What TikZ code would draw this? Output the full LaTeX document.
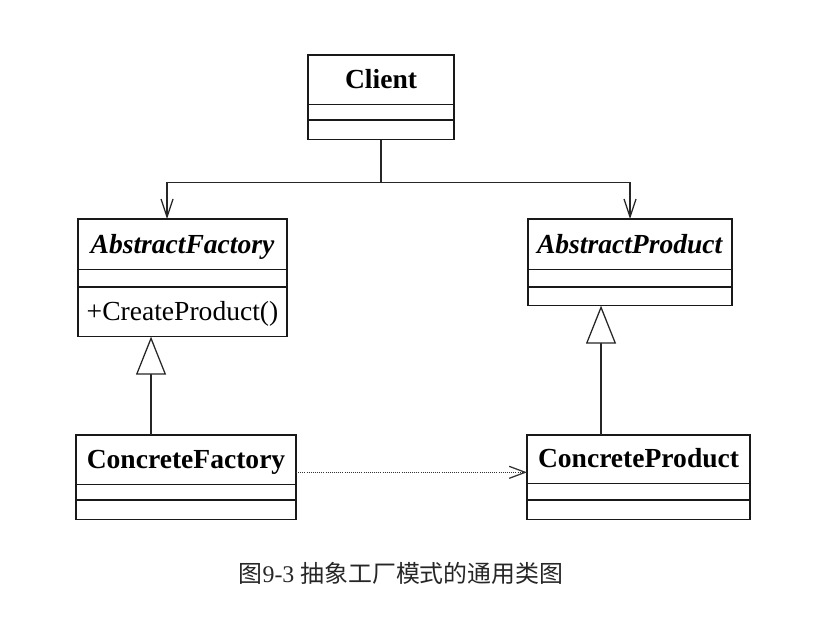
\documentclass[tikz,border=0pt]{standalone}
\usepackage{fontspec}
\setmainfont{Liberation Serif}
\newfontfamily\cjk{Noto Sans CJK SC}
\usetikzlibrary{arrows.meta,shapes.multipart}
\newlength\pxu
\setlength\pxu{0.025cm}
\def\umlname#1{\rule[-15\pxu]{0pt}{#1\pxu}}
\def\umlgap#1{\rule{0pt}{#1\pxu}}

\begin{document}
\begin{tikzpicture}[x=0.025cm, y=-0.025cm,
	umlclass/.style={rectangle split, rectangle split parts=3, draw=black!90, line width=1.1pt,
		inner xsep=0pt, inner ysep=0pt, outer sep=0pt, anchor=north west,
		font=\fontsize{19.6}{23}\selectfont\bfseries},
	assoc/.style={draw=black!85, line width=0.9pt, -{Straight Barb[length=0.45cm, width=0.3cm]}},
	inherit/.style={draw=black!85, line width=0.9pt, -{Triangle[open, length=0.95cm, width=0.75cm, fill=white]}},
	depend/.style={draw=black!80, line width=0.9pt, dash pattern=on 0.7pt off 0.8pt, -{Straight Barb[length=0.4cm, width=0.3cm]}}]
			%%%%% START %%%%%
			
			\useasboundingbox (0, 0) rectangle (830, 624);
			
			\node[umlclass, minimum width=3.65cm] (client) at (308, 55) {\umlname{48}Client\nodepart{two}\umlgap{14}\nodepart{three}\umlgap{18}};
			
			\node[umlclass, minimum width=5.225cm] (afactory) at (78, 219) {\umlname{49}\textit{AbstractFactory}\nodepart{two}\umlgap{16}\nodepart{three}\umlname{48}\mdseries+CreateProduct()};
			\node[umlclass, minimum width=5.1cm] (aproduct) at (528, 219) {\umlname{49}\textit{AbstractProduct}\nodepart{two}\umlgap{16}\nodepart{three}\umlgap{17}};
			
			\node[umlclass, minimum width=5.5cm] (cfactory) at (76, 435) {\umlname{48}ConcreteFactory\nodepart{two}\umlgap{14}\nodepart{three}\umlgap{18}};
			\node[umlclass, minimum width=5.575cm] (cproduct) at (527, 435) {\umlname{47}ConcreteProduct\nodepart{two}\umlgap{15}\nodepart{three}\umlgap{18}};
			
			\draw[assoc] (client.south) -- ++(0, 43) -| ([xshift=-0.3875cm]afactory.north);
			\draw[assoc] (client.south) -- ++(0, 43) -| (aproduct.north);
			
			\draw[inherit] ([xshift=-0.875cm]cfactory.north) -- ([xshift=-0.875cm]cfactory.north |- afactory.south);
			\draw[inherit] ([xshift=-0.9375cm]cproduct.north) -- ([xshift=-0.9375cm]cproduct.north |- aproduct.south);
			
			\draw[depend] ([yshift=0.125cm]cfactory.east) -- ([yshift=0.125cm]cproduct.west);
			
			\node[font=\fontsize{17}{20}\selectfont, text=black!85] (caption) at (401, 573) {{\cjk 图}9-3 {\cjk 抽象工厂模式的通用类图}};
			
			%%%%% END %%%%%
		\end{tikzpicture}
\end{document}
